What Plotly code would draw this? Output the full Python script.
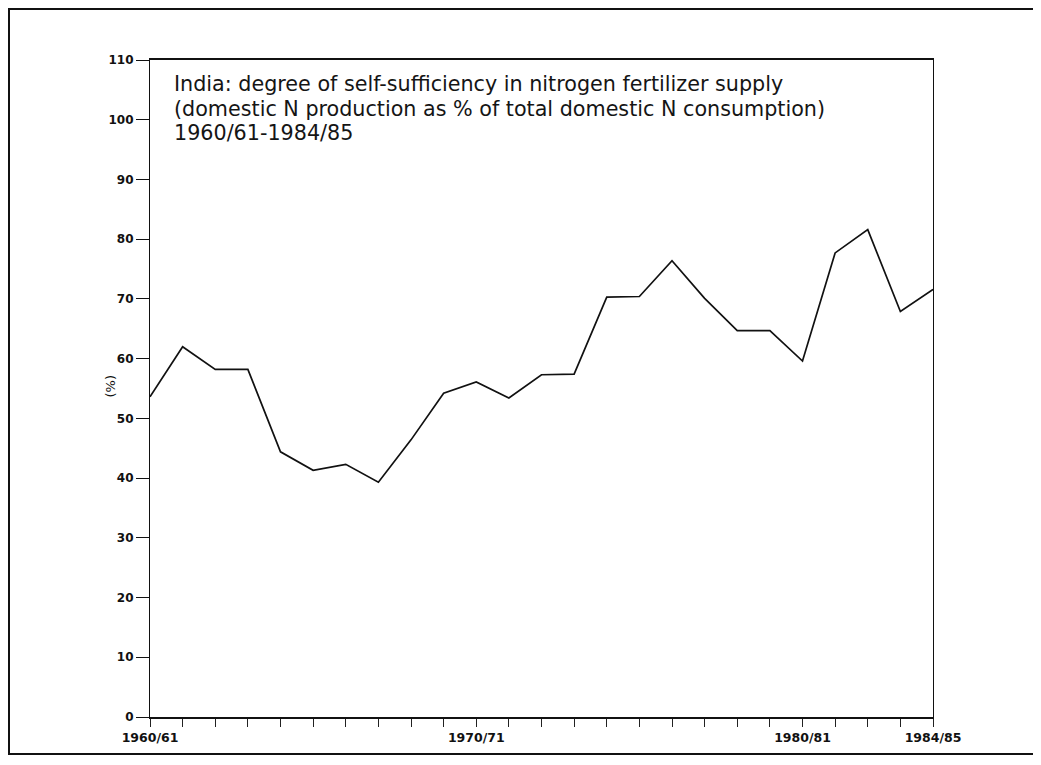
import plotly.graph_objects as go

years = list(range(1960, 1985))
self_sufficiency = [53.6, 62.0, 58.2, 58.2, 44.4, 41.3, 42.3, 39.3, 46.4, 54.2,
                    56.1, 53.4, 57.3, 57.4, 70.3, 70.4, 76.4, 70.1, 64.7, 64.7,
                    59.6, 77.7, 81.6, 67.9, 71.6]
x_tick_vals = years
x_tick_text = ["1960/61" if y == 1960 else "1970/71" if y == 1970 else
               "1980/81" if y == 1980 else "1984/85" if y == 1984 else "" for y in years]
y_tick_vals = list(range(0, 111, 10))
title_lines = [
    "India: degree of self-sufficiency in nitrogen fertilizer supply",
    "(domestic N production as % of total domestic N consumption)",
    "1960/61-1984/85",
]

OFF = 8  # page body margin
W, H = 1041, 765
# target page coordinates of the plot area
PL, PR, PT, PB = 150, 933, 60, 717
L, T = PL - OFF, PT - OFF
R = W - (PR - OFF)
B = H - (PB - OFF)
pw, ph = W - L - R, H - T - B


def px(x):
    return (x - OFF - L) / pw


def py(y):
    return (H - B - (y - OFF)) / ph


fig = go.Figure()
fig.add_trace(go.Scatter(x=years, y=self_sufficiency, mode="lines",
                         line=dict(color="#111", width=1.7), showlegend=False))

tick_family = "DejaVu Sans, sans-serif"
title_family = "DejaVu Sans, sans-serif"
fig.update_layout(
    width=W, height=H,
    margin=dict(l=L, r=R, t=T, b=B),
    paper_bgcolor="white", plot_bgcolor="white",
    font=dict(family=tick_family, color="#111"),
    xaxis=dict(range=[1960, 1984], tickvals=x_tick_vals, ticktext=x_tick_text,
               ticks="outside", ticklen=8, tickwidth=1, tickcolor="#222",
               showline=True, linecolor="#111", linewidth=1.6, mirror=True,
               showgrid=False, zeroline=False,
               tickfont=dict(size=12.5, color="#111", family=tick_family, weight="bold"),
               tickangle=0),
    yaxis=dict(range=[0, 110], tickvals=y_tick_vals,
               ticks="outside", ticklen=13, tickwidth=1.3, tickcolor="#111",
               showline=True, linecolor="#111", linewidth=1.2, mirror=True,
               showgrid=False, zeroline=False,
               tickfont=dict(size=12, color="#111", family=tick_family, weight="bold")),
)

for i, line in enumerate(title_lines):
    fig.add_annotation(x=px(172), y=py(84 + i * 24.5), xref="paper", yref="paper",
                       text=line, showarrow=False, xanchor="left", yanchor="middle",
                       font=dict(size=20.7, color="#151515", family=title_family))

fig.add_annotation(x=px(100), y=py(386), xref="paper", yref="paper", text="(%)",
                   showarrow=False, textangle=-90,
                   font=dict(size=13, color="#111", family=tick_family))

fig.add_shape(type="rect", xref="paper", yref="paper",
              x0=px(9), x1=px(1036), y0=py(754), y1=py(9),
              line=dict(color="#111", width=2), fillcolor="rgba(0,0,0,0)")

fig.write_html("out.html")
